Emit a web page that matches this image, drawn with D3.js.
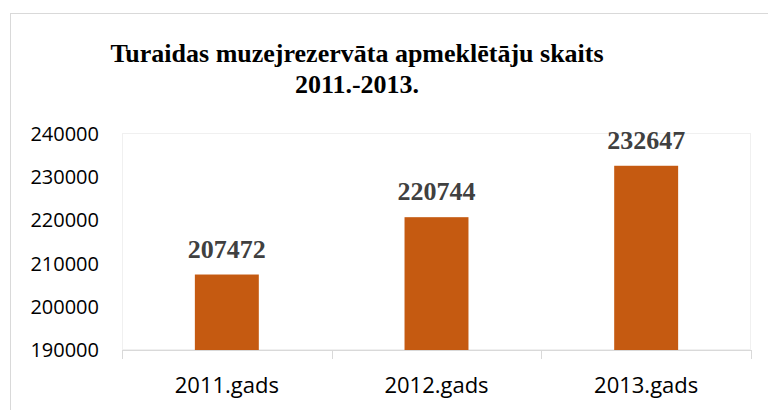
<!DOCTYPE html>
<html>
<head>
<meta charset="utf-8">
<script src="https://cdn.jsdelivr.net/npm/d3@7"></script>
<style>
  body { margin: 0; background: #fff; }
  svg { display: block; }
</style>
</head>
<body>
<div id="chart"></div>
<script>
// data
const categories = ["2011.gads", "2012.gads", "2013.gads"];
const visitors = [207472, 220744, 232647];
const yTicks = [190000, 200000, 210000, 220000, 230000, 240000];
const titleLines = ["Turaidas muzejrezervāta apmeklētāju skaits", "2011.-2013."];

const width = 768;
const height = 410;
const plot = { left: 122, right: 751, top: 134, bottom: 350 };

const svg = d3
  .select("#chart")
  .append("svg")
  .attr("width", width)
  .attr("height", height);

// outer chart border (runs off the right/bottom edge)
svg
  .append("rect")
  .attr("x", 10.5)
  .attr("y", 13.5)
  .attr("width", 900)
  .attr("height", 600)
  .attr("fill", "#fff")
  .attr("stroke", "#d9d9d9");

// title
svg
  .append("g")
  .selectAll("text")
  .data(titleLines)
  .join("text")
  .attr("x", 357)
  .attr("y", (d, i) => 62 + i * 31)
  .attr("text-anchor", "middle")
  .style("font-family", "'Liberation Serif', 'Times New Roman', serif")
  .style("font-weight", "bold")
  .style("font-size", "26px")
  .attr("fill", "#000")
  .text((d) => d);

// scales
const x = d3
  .scaleBand()
  .domain(categories)
  .range([plot.left, plot.right])
  .paddingInner(0.695)
  .paddingOuter(0.3475);

const xBand = d3.scaleBand().domain(categories).range([plot.left, plot.right]);

const y = d3
  .scaleLinear()
  .domain([d3.min(yTicks), d3.max(yTicks)])
  .range([plot.bottom, plot.top]);

// faint plot area border
svg
  .append("rect")
  .attr("x", plot.left + 0.5)
  .attr("y", plot.top - 0.5)
  .attr("width", plot.right - plot.left - 1)
  .attr("height", plot.bottom - plot.top)
  .attr("fill", "none")
  .attr("stroke", "#f0f0f0");

// y axis labels
const yAxis = d3
  .axisLeft(y)
  .tickValues(yTicks)
  .tickFormat(d3.format("d"))
  .tickSize(0)
  .tickPadding(23);

svg
  .append("g")
  .attr("transform", `translate(${plot.left},0)`)
  .call(yAxis)
  .call((g) => g.select(".domain").remove())
  .call((g) =>
    g
      .selectAll("text")
      .attr("fill", "#000")
      .style("font-family", "'Open Sans', sans-serif")
      .style("font-size", "20px")
  );

// bars
svg
  .append("g")
  .selectAll("rect")
  .data(visitors)
  .join("rect")
  .attr("x", (d, i) => x(categories[i]))
  .attr("y", (d) => y(d))
  .attr("width", x.bandwidth())
  .attr("height", (d) => y(190000) - y(d))
  .attr("fill", "#c55a11");

// data labels
svg
  .append("g")
  .selectAll("text")
  .data(visitors)
  .join("text")
  .attr("x", (d, i) => x(categories[i]) + x.bandwidth() / 2)
  .attr("y", (d) => y(d) - 17)
  .attr("text-anchor", "middle")
  .style("font-family", "'Liberation Serif', 'Times New Roman', serif")
  .style("font-weight", "bold")
  .style("font-size", "26px")
  .attr("fill", "#404040")
  .text((d) => d);

// x axis: line + ticks at category boundaries
const xAxisG = svg.append("g");
xAxisG
  .append("line")
  .attr("x1", plot.left)
  .attr("x2", plot.right)
  .attr("y1", plot.bottom + 0.5)
  .attr("y2", plot.bottom + 0.5)
  .attr("stroke", "#d9d9d9");

const boundaries = categories.map((c) => xBand(c)).concat([plot.right]);
xAxisG
  .selectAll(".tick")
  .data(boundaries)
  .join("line")
  .attr("class", "tick")
  .attr("x1", (d) => Math.round(d) + 0.5)
  .attr("x2", (d) => Math.round(d) + 0.5)
  .attr("y1", plot.bottom)
  .attr("y2", plot.bottom + 9)
  .attr("stroke", "#d9d9d9");

xAxisG
  .selectAll(".label")
  .data(categories)
  .join("text")
  .attr("class", "label")
  .attr("x", (d) => xBand(d) + xBand.bandwidth() / 2)
  .attr("y", 393)
  .attr("text-anchor", "middle")
  .style("font-family", "'Open Sans', sans-serif")
  .style("font-size", "22px")
  .attr("fill", "#000")
  .text((d) => d);
</script>
</body>
</html>
